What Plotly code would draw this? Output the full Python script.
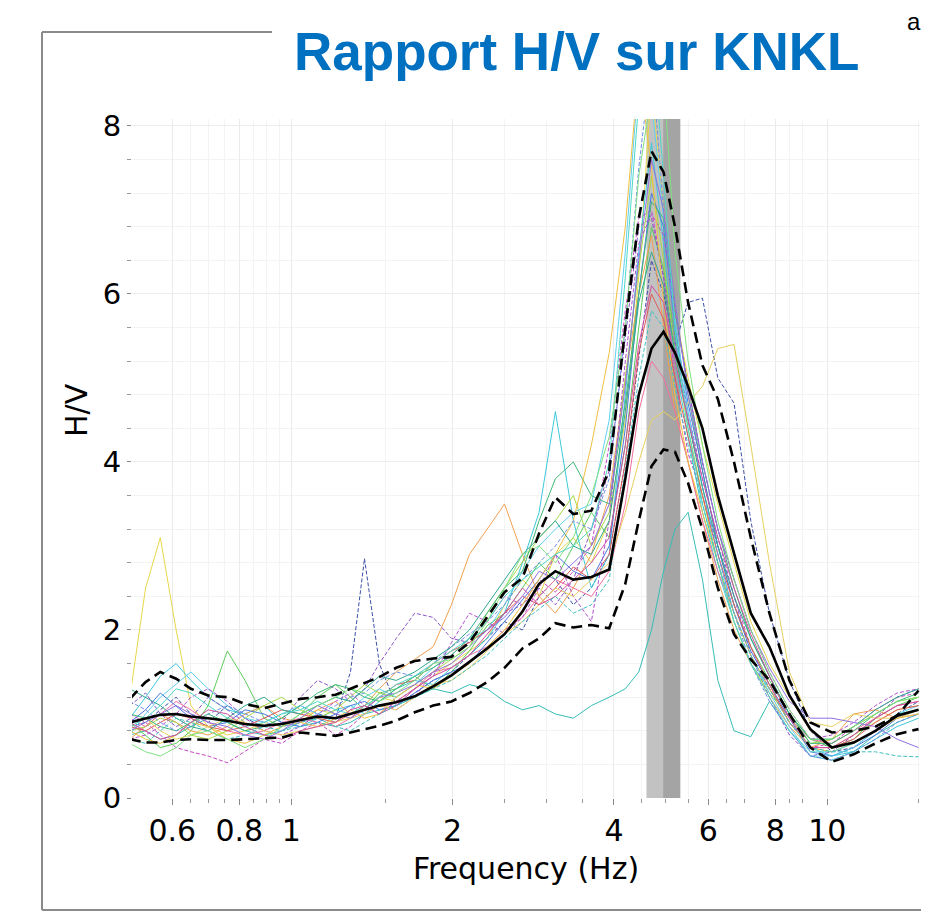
import plotly.graph_objects as go

# ---------------- data ----------------
freq = [0.50, 0.535, 0.57, 0.61, 0.65, 0.70, 0.76, 0.82, 0.89, 0.96,
        1.04, 1.12, 1.21, 1.29, 1.37, 1.46, 1.57, 1.70, 1.84, 1.99,
        2.15, 2.32, 2.50, 2.70, 2.90, 3.11, 3.36, 3.63, 3.92,
        4.20, 4.45, 4.70, 4.95, 5.20, 5.50, 5.85, 6.25,
        6.70, 7.20, 7.80, 8.50, 9.30, 10.2,
        11.2, 12.3, 13.5, 14.8]

hv_mean = [0.9, 0.95, 0.99, 1.0, 0.97, 0.95, 0.92, 0.88, 0.86, 0.88,
           0.93, 0.97, 0.95, 1.0, 1.05, 1.1, 1.14, 1.21, 1.33, 1.46,
           1.62, 1.78, 1.95, 2.22, 2.55, 2.7, 2.6, 2.63, 2.72,
           3.8, 4.8, 5.35, 5.55, 5.3, 4.9, 4.4, 3.6,
           2.9, 2.2, 1.8, 1.22, 0.82, 0.6,
           0.66, 0.8, 0.98, 1.05]

hv_upper = [1.18, 1.38, 1.5, 1.42, 1.3, 1.22, 1.2, 1.12, 1.07, 1.12,
            1.18, 1.2, 1.23, 1.3, 1.37, 1.44, 1.55, 1.63, 1.66, 1.68,
            1.85, 2.15, 2.45, 2.62, 3.15, 3.58, 3.38, 3.42, 3.9,
            5.6, 6.9, 7.7, 7.45, 6.8, 5.9, 5.15, 4.75,
            4.0, 3.1, 2.2, 1.4, 0.9, 0.78,
            0.8, 0.85, 0.98, 1.28]

hv_lower = [0.7, 0.66, 0.66, 0.69, 0.7, 0.69, 0.69, 0.7, 0.71, 0.72,
            0.78, 0.76, 0.74, 0.78, 0.82, 0.86, 0.92, 1.02, 1.1, 1.15,
            1.25, 1.38, 1.55, 1.78, 1.9, 2.08, 2.03, 2.06, 2.02,
            2.55, 3.3, 3.95, 4.15, 4.12, 3.75, 3.2, 2.5,
            1.95, 1.65, 1.4, 1.0, 0.6, 0.43,
            0.52, 0.65, 0.76, 0.82]

win01 = [1.2, 2.5, 3.1, 2.0, 1.1, 0.85, 0.75, 0.8, 0.9, 0.85,
         0.95, 1.05, 1.0, 0.95, 1.1, 1.2, 1.15, 1.3, 1.45, 1.6,
         1.75, 1.9, 2.3, 2.6, 2.4, 2.9, 3.1, 2.8, 3.3,
         4.5, 6.2, 8.5, 7.0, 5.8, 5.0, 4.2, 3.5,
         2.8, 2.1, 1.6, 1.2, 0.8, 0.6,
         0.75, 0.9, 1.05, 1.1]
win02 = [0.85, 0.9, 1.05, 1.2, 1.0, 0.9, 1.1, 0.95, 0.85, 0.95,
         1.1, 1.0, 0.95, 1.5, 2.85, 1.6, 1.1, 1.25, 1.4, 1.5,
         1.7, 1.9, 2.1, 2.0, 2.4, 2.6, 2.3, 2.5, 2.9,
         4.0, 5.2, 6.4, 6.0, 5.4, 5.9, 5.95, 5.0,
         4.7, 3.3, 2.2, 1.4, 0.8, 0.55,
         0.6, 0.8, 1.0, 1.15]
win03 = [0.95, 1.2, 1.45, 1.6, 1.4, 1.2, 1.05, 1.0, 1.1, 0.9,
         0.85, 0.95, 1.05, 1.1, 1.0, 1.15, 1.3, 1.4, 1.35, 1.55,
         1.7, 1.9, 2.2, 2.8, 3.4, 4.6, 3.3, 2.5, 2.9,
         4.8, 6.5, 7.8, 6.6, 5.2, 4.3, 3.4, 2.7,
         2.1, 1.6, 1.3, 0.9, 0.6, 0.5,
         0.55, 0.7, 0.85, 0.95]
win04 = [0.75, 0.8, 0.7, 0.75, 0.85, 0.95, 0.9, 0.8, 0.75, 0.8,
         0.9, 0.95, 0.85, 0.9, 1.0, 1.05, 1.1, 1.2, 1.3, 1.25,
         1.35, 1.3, 1.15, 1.05, 1.1, 1.0, 0.95, 1.1, 1.2,
         1.3, 1.5, 2.0, 2.7, 3.2, 3.4, 2.6, 1.4,
         0.8, 0.73, 1.15, 0.8, 0.5, 0.45,
         0.55, 0.75, 0.9, 1.0]
win05 = [1.0, 0.9, 0.75, 0.6, 0.55, 0.5, 0.42, 0.55, 0.7, 0.65,
         0.8, 0.9, 0.75, 0.85, 1.0, 1.1, 1.05, 1.2, 1.5, 1.7,
         1.9, 2.1, 2.4, 2.3, 2.6, 2.45, 2.7, 3.0, 4.2,
         5.8, 6.9, 7.0, 6.2, 5.0, 4.1, 3.6, 3.0,
         2.4, 1.8, 1.3, 0.9, 0.6, 0.65,
         0.85, 1.05, 1.2, 1.25]
win06 = [0.9, 0.75, 0.6, 0.65, 0.8, 1.1, 1.75, 1.4, 0.95, 0.85,
         1.0, 1.2, 1.35, 1.2, 1.05, 1.25, 1.3, 1.45, 1.3, 1.5,
         1.75, 2.05, 2.2, 2.5, 2.8, 2.6, 3.0, 3.4, 3.1,
         4.2, 5.6, 6.8, 6.3, 5.5, 4.8, 3.9, 3.0,
         2.3, 1.8, 1.4, 1.0, 0.7, 0.6,
         0.7, 0.95, 1.1, 1.2]
win07 = [0.7, 0.85, 1.0, 0.9, 0.8, 0.75, 0.85, 1.0, 1.1, 0.95,
         0.9, 1.05, 1.15, 1.0, 1.1, 1.3, 1.5, 1.65, 1.8, 2.3,
         2.9, 3.2, 3.5, 2.9, 2.4, 2.2, 2.5, 2.9, 3.6,
         5.0, 6.0, 6.7, 5.6, 4.6, 4.0, 3.3, 2.6,
         2.0, 1.6, 1.2, 0.85, 0.6, 0.7,
         1.0, 1.05, 0.95, 1.0]
win08 = [1.1, 1.25, 1.0, 0.85, 0.95, 1.2, 1.05, 0.9, 0.8, 0.9,
         1.2, 1.4, 1.3, 1.15, 1.3, 1.6, 1.9, 2.2, 2.15, 1.9,
         1.85, 2.0, 2.2, 2.3, 2.5, 2.3, 2.6, 3.2, 3.9,
         5.5, 6.8, 6.9, 6.2, 5.4, 4.6, 3.8, 3.1,
         2.4, 1.7, 1.2, 0.75, 0.5, 0.55,
         0.75, 0.95, 1.2, 1.3]
win09 = [0.8, 0.85, 0.95, 0.9, 0.75, 0.7, 0.8, 0.95, 1.1, 1.2,
         1.05, 0.95, 1.05, 1.2, 1.35, 1.25, 1.2, 1.35, 1.5, 1.65,
         1.8, 2.2, 2.5, 2.8, 3.1, 3.3, 3.6, 3.0, 3.4,
         5.0, 6.3, 7.4, 6.4, 5.3, 4.4, 3.6, 2.8,
         2.1, 1.6, 1.25, 0.95, 0.65, 0.7,
         0.85, 1.0, 1.15, 1.2]
win10 = [0.95, 0.85, 1.0, 1.15, 1.05, 0.9, 0.8, 0.75, 0.8, 0.9,
         0.95, 0.9, 0.85, 0.95, 1.1, 1.0, 1.15, 1.3, 1.5, 1.55,
         1.7, 1.8, 2.0, 2.15, 2.4, 2.6, 2.5, 2.4, 2.7,
         3.5, 4.6, 5.2, 5.0, 4.6, 4.0, 3.3, 2.7,
         2.2, 1.7, 1.3, 0.95, 0.7, 0.65,
         0.8, 0.95, 1.1, 1.15]
win11 = [0.9, 1.05, 1.25, 1.1, 0.95, 0.85, 0.9, 1.05, 1.0, 0.9,
         0.85, 0.9, 1.0, 1.1, 1.15, 1.05, 1.1, 1.25, 1.4, 1.5,
         1.6, 1.85, 2.1, 2.35, 2.6, 2.9, 2.7, 2.6, 3.0,
         4.4, 6.0, 7.2, 6.8, 5.6, 4.7, 3.9, 3.0,
         2.3, 1.75, 1.35, 0.95, 0.55, 0.5,
         0.6, 0.75, 0.95, 1.05]
win12 = [0.75, 1.0, 1.2, 1.35, 1.5, 1.3, 1.1, 0.95, 0.9, 1.0,
         1.1, 1.0, 0.9, 1.05, 1.2, 1.3, 1.2, 1.35, 1.55, 1.7,
         1.9, 2.0, 2.3, 2.7, 3.0, 3.2, 3.4, 3.5, 4.5,
         6.5, 8.6, 8.3, 6.9, 5.7, 4.6, 3.7, 2.9,
         2.2, 1.7, 1.25, 0.85, 0.5, 0.5,
         0.6, 0.8, 1.0, 1.1]
win13 = [0.85, 0.8, 0.9, 1.0, 0.95, 0.85, 0.8, 0.85, 0.95, 1.05,
         1.0, 0.95, 0.9, 1.0, 1.05, 1.2, 1.35, 1.4, 1.6, 1.75,
         1.85, 2.0, 2.2, 2.4, 2.3, 2.5, 2.75, 2.6, 2.9,
         4.0, 5.3, 6.0, 5.7, 5.0, 4.3, 3.6, 2.9,
         2.3, 1.8, 1.35, 0.9, 0.6, 0.6,
         0.7, 0.9, 1.05, 1.1]
win14 = [1.0, 0.95, 0.85, 0.8, 0.9, 1.0, 0.9, 0.8, 0.85, 0.95,
         1.1, 1.25, 1.35, 1.3, 1.2, 1.15, 1.3, 1.45, 1.55, 1.7,
         1.9, 2.2, 2.5, 2.7, 3.3, 3.8, 4.0, 3.6, 3.5,
         4.7, 6.0, 7.1, 6.9, 5.8, 4.9, 4.0, 3.2,
         2.5, 1.9, 1.45, 1.0, 0.65, 0.65,
         0.8, 1.0, 1.15, 1.25]
win15 = [0.7, 0.75, 0.85, 1.0, 1.2, 1.3, 1.15, 0.95, 0.8, 0.75,
         0.85, 1.0, 1.15, 1.25, 1.1, 1.0, 1.15, 1.3, 1.45, 1.85,
         2.2, 2.1, 1.95, 2.15, 2.5, 2.9, 2.4, 2.1, 3.3,
         5.2, 6.6, 6.95, 6.7, 5.8, 4.9, 4.0, 3.2,
         2.6, 2.0, 1.5, 1.05, 0.7, 0.75,
         0.9, 1.1, 1.25, 1.3]
win16 = [0.8, 0.7, 0.65, 0.75, 0.9, 0.85, 0.7, 0.65, 0.75, 0.85,
         0.9, 0.85, 0.95, 1.05, 0.95, 1.0, 1.2, 1.35, 1.3, 1.45,
         1.6, 1.8, 2.0, 2.3, 2.6, 2.9, 3.3, 4.2, 5.3,
         6.8, 8.7, 7.5, 5.9, 4.8, 4.0, 3.4, 2.8,
         2.2, 1.7, 1.3, 0.9, 0.6, 0.55,
         0.65, 0.8, 0.95, 1.0]
win17 = [0.9, 0.95, 0.8, 0.7, 0.75, 0.85, 0.95, 0.9, 0.8, 0.75,
         0.8, 0.85, 0.9, 0.95, 1.0, 1.1, 1.05, 1.2, 1.35, 1.4,
         1.55, 1.75, 1.95, 2.1, 2.3, 2.5, 2.4, 2.6, 2.8,
         3.4, 4.0, 4.5, 4.6, 4.5, 4.7, 4.9, 5.35,
         5.4, 4.2, 2.8, 1.5, 0.9, 0.85,
         1.0, 0.95, 0.95, 1.05]
win18 = [1.15, 1.05, 0.9, 0.8, 0.85, 1.0, 1.1, 1.0, 0.9, 0.85,
         0.9, 1.0, 1.1, 1.2, 1.25, 1.4, 1.5, 1.45, 1.6, 1.8,
         1.95, 2.1, 2.3, 2.6, 2.8, 3.0, 3.3, 3.2, 3.8,
         5.6, 7.5, 8.8, 7.0, 5.5, 4.5, 3.7, 2.9,
         2.2, 1.6, 1.15, 0.8, 0.5, 0.45,
         0.55, 0.7, 0.9, 1.0]
win19 = [1.3, 1.2, 1.1, 0.95, 0.85, 0.8, 0.95, 1.1, 1.2, 1.05,
         1.0, 1.1, 1.2, 1.15, 1.3, 1.45, 1.4, 1.5, 1.65, 1.8,
         2.0, 2.3, 2.6, 2.9, 3.1, 3.3, 3.0, 2.9, 3.3,
         4.6, 5.9, 6.5, 6.1, 5.3, 4.5, 3.7, 3.0,
         2.4, 1.9, 1.45, 1.0, 0.7, 0.7,
         0.85, 1.05, 1.2, 1.3]
win20 = [0.8, 0.9, 1.0, 1.1, 1.0, 0.9, 0.85, 0.75, 0.7, 0.8,
         0.95, 1.1, 1.0, 0.95, 1.05, 1.2, 1.25, 1.35, 1.5, 1.6,
         1.8, 2.0, 2.15, 2.4, 2.7, 2.6, 2.8, 3.0, 3.5,
         4.9, 6.4, 7.6, 7.0, 5.9, 4.8, 4.0, 3.2,
         2.6, 2.0, 1.55, 1.15, 0.95, 0.95,
         0.9, 0.85, 0.7, 0.6]
win21 = [0.85, 0.95, 1.1, 1.3, 1.25, 1.1, 0.95, 0.85, 0.9, 1.0,
         1.05, 1.15, 1.05, 1.0, 1.1, 1.2, 1.35, 1.45, 1.6, 1.75,
         1.9, 2.1, 2.4, 2.6, 2.75, 2.9, 3.0, 3.2, 4.0,
         6.2, 8.3, 9.2, 7.4, 5.6, 4.4, 3.5, 2.8,
         2.1, 1.6, 1.2, 0.8, 0.55, 0.55,
         0.65, 0.8, 1.0, 1.05]
win22 = [0.9, 0.8, 0.7, 0.75, 0.9, 1.05, 1.0, 0.85, 0.75, 0.7,
         0.8, 0.85, 0.9, 1.05, 1.1, 1.0, 1.1, 1.3, 1.45, 1.55,
         1.7, 1.95, 2.2, 2.5, 2.3, 2.4, 2.6, 2.8, 3.1,
         4.2, 5.4, 6.1, 5.9, 5.2, 4.5, 3.8, 3.1,
         2.5, 1.95, 1.45, 0.95, 0.6, 0.6,
         0.75, 0.95, 1.1, 1.15]
win23 = [0.7, 0.65, 0.8, 0.95, 0.9, 0.8, 0.7, 0.75, 0.85, 0.8,
         0.85, 0.9, 0.85, 0.8, 0.9, 1.0, 1.1, 1.2, 1.3, 1.4,
         1.55, 1.7, 1.9, 2.1, 2.25, 2.4, 2.2, 2.3, 2.6,
         3.9, 5.0, 5.8, 5.6, 4.9, 4.2, 3.5, 2.8,
         2.2, 1.7, 1.3, 0.9, 0.6, 0.55,
         0.55, 0.55, 0.5, 0.49]
win24 = [0.65, 0.55, 0.5, 0.6, 0.75, 0.8, 0.7, 0.6, 0.7, 0.85,
         1.0, 1.1, 1.2, 1.3, 1.25, 1.15, 1.25, 1.4, 1.6, 1.65,
         1.8, 2.1, 2.5, 2.9, 3.0, 2.8, 3.1, 3.6, 4.3,
         5.6, 7.4, 8.4, 8.6, 6.5, 5.2, 4.2, 3.3,
         2.6, 2.0, 1.5, 1.05, 0.7, 0.7,
         0.85, 1.0, 1.15, 1.2]

windows = [win01, win02, win03, win04, win05, win06, win07, win08,
           win09, win10, win11, win12, win13, win14, win15, win16,
           win17, win18, win19, win20, win21, win22, win23, win24]

peak_band_light = [4.6, 4.94]
peak_band_dark = [4.94, 5.32]

x_tickvals = [0.6, 0.8, 1, 2, 4, 6, 8, 10]
x_ticktext = ["0.6", "0.8", "1", "2", "4", "6", "8", "10"]
x_minor_vals = [0.65, 0.7, 0.75, 0.85, 0.9, 0.95, 1.5, 2.5, 3, 3.5,
                4.5, 5, 5.5, 6.5, 7, 8.5, 9, 14.8]
y_tickvals = [0, 2, 4, 6, 8]

# ---------------- styles ----------------
colors = ["#e6d84a", "#3a4fa8", "#3cc8dc", "#36bdb5", "#c848c4", "#5ccc5c",
          "#f0a050", "#8a56c8", "#a8d848", "#f070a0", "#4a78e0", "#60d0f0",
          "#e05a5a", "#40b878", "#b050d0", "#f0c040", "#e8d060", "#7090e8",
          "#30a890", "#9070e0", "#50d8c8", "#d050a0", "#40c0c0", "#80e080"]
dashed = {1, 4, 7, 14, 17, 22}

# page has an 8px body margin: figure spans page pixels 8..929 x 8..912
PL, PR, PT, PB = 132, 920, 119, 798          # plot-area edges in page pixels
PW, PH = PR - PL, PB - PT


def px(xp):
    return (xp - PL) / PW


def py(yp):
    return (PB - yp) / PH


fig = go.Figure()

for band, col in [(peak_band_light, "#c2c2c2"), (peak_band_dark, "#a4a4a4")]:
    fig.add_trace(go.Scatter(
        x=[band[0], band[1], band[1], band[0], band[0]],
        y=[0, 0, 9, 9, 0], fill="toself", fillcolor=col,
        line=dict(width=0), mode="lines", hoverinfo="skip"))

for i, w in enumerate(windows):
    fig.add_trace(go.Scatter(
        x=freq, y=w, mode="lines",
        line=dict(color=colors[i], width=1,
                  dash="4px,2px" if i in dashed else "solid")))

for ser in (hv_upper, hv_lower):
    fig.add_trace(go.Scatter(x=freq, y=ser, mode="lines",
                             line=dict(color="black", width=2.6, dash="11px,6px")))
fig.add_trace(go.Scatter(x=freq, y=hv_mean, mode="lines",
                         line=dict(color="black", width=2.6)))

font_main = "DejaVu Sans, Verdana, sans-serif"

fig.update_layout(
    width=921, height=904,
    margin=dict(l=PL - 8, r=929 - PR, t=PT - 8, b=912 - PB),
    paper_bgcolor="white", plot_bgcolor="white",
    showlegend=False,
    font=dict(family=font_main, size=30, color="black"),
    xaxis=dict(
        type="log", range=[-0.297, 1.173],
        tickvals=x_tickvals, ticktext=x_ticktext,
        ticks="outside", ticklen=6, tickcolor="#888888",
        showgrid=True, gridcolor="#ebebeb", gridwidth=1,
        zeroline=False, showline=False,
        tickfont=dict(size=30),
        minor=dict(tickvals=x_minor_vals, ticks="outside", ticklen=4,
                   tickcolor="#999999", showgrid=True, gridcolor="#f3f3f3"),
        title=dict(text="Frequency (Hz)", font=dict(size=30), standoff=10),
    ),
    yaxis=dict(
        range=[0, 8.083],
        tickvals=y_tickvals,
        ticks="outside", ticklen=4, tickcolor="#888888",
        showgrid=True, gridcolor="#ececec",
        zeroline=False, showline=False,
        tickfont=dict(size=29),
        minor=dict(dtick=0.4, ticks="outside", ticklen=4, tickcolor="#999999",
                   showgrid=True, gridcolor="#f3f3f3"),
    ),
    annotations=[
        dict(text="Rapport H/V sur KNKL", xref="paper", yref="paper",
             x=px(576), y=py(52),
             xanchor="center", yanchor="middle", showarrow=False,
             font=dict(family="Liberation Sans, Arial, sans-serif", size=53,
                       color="#0070c0", weight="bold")),
        dict(text="H/V", xref="paper", yref="paper", textangle=-90,
             x=px(76), y=py(410),
             xanchor="center", yanchor="middle", showarrow=False,
             font=dict(size=30)),
        dict(text="a", xref="paper", yref="paper",
             x=px(914), y=py(6),
             xanchor="center", yanchor="top", showarrow=False,
             font=dict(family="Liberation Sans, Arial, sans-serif", size=24,
                       color="black")),
    ],
    shapes=[
        dict(type="line", xref="paper", yref="paper",
             x0=px(42), x1=px(42), y0=py(32), y1=py(910),
             line=dict(color="#8a8a8a", width=2)),
        dict(type="line", xref="paper", yref="paper",
             x0=px(42), x1=px(272), y0=py(32), y1=py(32),
             line=dict(color="#8a8a8a", width=2)),
        dict(type="line", xref="paper", yref="paper",
             x0=px(42), x1=px(935), y0=py(910), y1=py(910),
             line=dict(color="#8a8a8a", width=2)),
    ],
)

fig.write_html("out.html")
